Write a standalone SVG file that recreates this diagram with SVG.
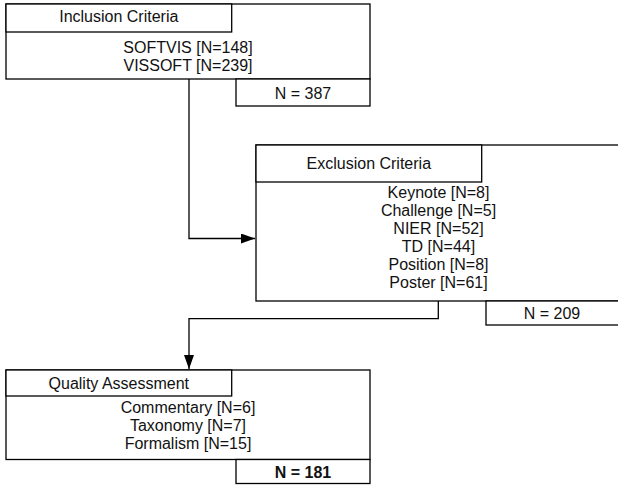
<svg xmlns="http://www.w3.org/2000/svg" width="618" height="485" viewBox="0 0 618 485">
<style>
.box{fill:#fff;stroke:#000;stroke-width:1.3}
.t{font-family:"Liberation Sans",Arial,Helvetica,sans-serif;font-size:16px;fill:#111;text-anchor:middle}
.b{font-weight:bold}
.c{fill:none;stroke:#000;stroke-width:1.3}
</style>
<defs>
<marker id="ah" markerWidth="14" markerHeight="10" refX="14" refY="5" orient="auto" markerUnits="userSpaceOnUse">
<path d="M0,0 L14,5 L0,10 Z" fill="#000"/>
</marker>
</defs>
<rect width="618" height="485" fill="#fff"/>
<g id="connectors">
<path class="c" d="M189,79 V238.5 H255" marker-end="url(#ah)"/>
<path class="c" d="M438.3,301 V318.7 H189 V369" marker-end="url(#ah)"/>
</g>
<g id="inclusion">
<rect class="box" x="6" y="4" width="364" height="75"/>
<rect class="box" x="6" y="4" width="225.7" height="28"/>
<text class="t" x="118.8" y="22">Inclusion Criteria</text>
<text class="t" x="188" y="52.6">SOFTVIS [N=148]</text>
<text class="t" x="188" y="70.7">VISSOFT [N=239]</text>
<rect class="box" x="236" y="79" width="134" height="27"/>
<text class="t" x="303" y="99">N = 387</text>
</g>
<g id="exclusion">
<rect class="box" x="256" y="145" width="364" height="156"/>
<rect class="box" x="256" y="145" width="225.7" height="37"/>
<text class="t" x="368.8" y="169.3">Exclusion Criteria</text>
<text class="t" x="438.5" y="197.7">Keynote [N=8]</text>
<text class="t" x="438.5" y="215.8">Challenge [N=5]</text>
<text class="t" x="438.5" y="233.9">NIER [N=52]</text>
<text class="t" x="438.5" y="252">TD [N=44]</text>
<text class="t" x="438.5" y="270.1">Position [N=8]</text>
<text class="t" x="438.5" y="288.3">Poster [N=61]</text>
<rect class="box" x="486" y="301" width="134" height="24"/>
<text class="t" x="552" y="319.3">N = 209</text>
</g>
<g id="quality">
<rect class="box" x="6" y="370" width="364" height="89.5"/>
<rect class="box" x="6" y="370" width="225.7" height="26"/>
<text class="t" x="118.8" y="389.3">Quality Assessment</text>
<text class="t" x="188" y="413.3">Commentary [N=6]</text>
<text class="t" x="188" y="431.3">Taxonomy [N=7]</text>
<text class="t" x="188" y="449.3">Formalism [N=15]</text>
<rect class="box" x="236" y="459.5" width="134" height="24"/>
<text class="t b" x="303" y="478.3">N = 181</text>
</g>
</svg>
